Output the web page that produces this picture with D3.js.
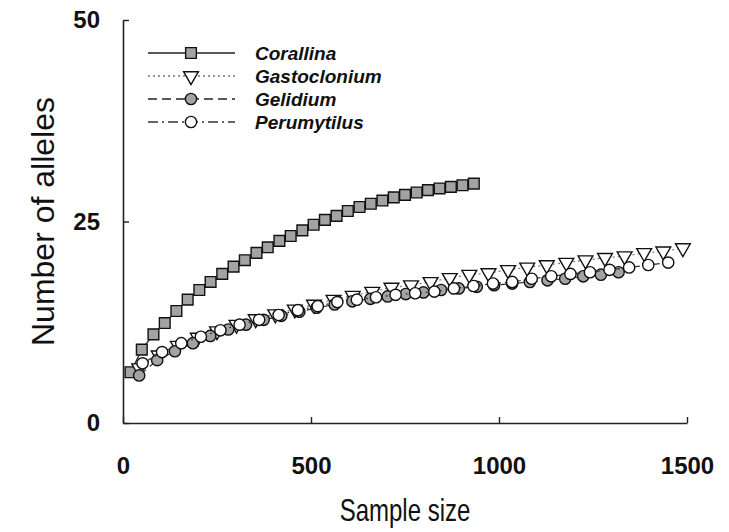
<!DOCTYPE html>
<html lang="en">

<head>
    <meta charset="UTF-8">
    <title>Allele rarefaction</title>
    <script src="https://unpkg.com/d3@7.8.0/dist/d3.min.js"></script>
    <style>
        body {
            margin: 0px;
            background: #fff;
        }
    </style>
</head>

<body>

    <script>
        // sample sizes and number of alleles
        const corallinaN = [20, 50, 81, 111, 142, 172, 203, 233, 264, 294, 324, 355, 385, 416, 446, 477, 507, 537, 568, 598, 629, 659, 690, 720, 750, 781, 811, 842, 872, 903, 933];
        const corallinaA = [6.3, 9.1, 11.0, 12.4, 13.9, 15.3, 16.5, 17.5, 18.5, 19.4, 20.2, 21.1, 21.8, 22.6, 23.2, 23.9, 24.6, 25.2, 25.7, 26.3, 26.8, 27.2, 27.6, 28.0, 28.3, 28.6, 28.9, 29.1, 29.3, 29.5, 29.7];

        const gastoN = [43, 95, 146, 199, 250, 302, 353, 405, 457, 508, 560, 611, 663, 714, 766, 818, 869, 921, 972, 1024, 1075, 1127, 1179, 1230, 1282, 1334, 1386, 1437, 1489];
        const gastoA = [6.8, 8.4, 9.6, 10.6, 11.4, 12.2, 12.9, 13.5, 14.1, 14.7, 15.3, 15.8, 16.3, 16.8, 17.1, 17.5, 18.0, 18.4, 18.6, 19.0, 19.3, 19.6, 19.9, 20.2, 20.5, 20.7, 21.1, 21.3, 21.7];

        const gelidiumN = [43, 91, 138, 186, 232, 280, 327, 374, 421, 469, 515, 563, 610, 658, 704, 752, 799, 846, 893, 941, 987, 1035, 1082, 1129, 1176, 1224, 1271, 1318];
        const gelidiumA = [5.9, 7.8, 8.9, 9.9, 10.8, 11.6, 12.2, 12.8, 13.3, 13.8, 14.3, 14.7, 15.1, 15.4, 15.7, 16.0, 16.2, 16.5, 16.7, 16.9, 17.1, 17.3, 17.5, 17.7, 17.9, 18.2, 18.4, 18.7];

        const perumN = [52, 104, 155, 207, 259, 310, 362, 414, 465, 518, 570, 622, 673, 725, 777, 828, 880, 932, 984, 1035, 1087, 1139, 1190, 1242, 1294, 1346, 1397, 1450];
        const perumA = [7.4, 8.8, 9.9, 10.7, 11.5, 12.2, 12.8, 13.4, 14.0, 14.5, 15.0, 15.3, 15.6, 15.9, 16.1, 16.3, 16.7, 17.0, 17.3, 17.5, 17.9, 18.2, 18.5, 18.7, 19.0, 19.3, 19.6, 19.9];

        const xTicks = [0, 500, 1000, 1500];
        const yTicks = [0, 25, 50];

        const series = [
            { name: 'Corallina', n: corallinaN, a: corallinaA, symbol: d3.symbolSquare, size: 115, rot: 0, fill: '#a3a3a3', dash: null, lineColor: '#222' },
            { name: 'Gastoclonium', n: gastoN, a: gastoA, symbol: d3.symbolTriangle, size: 95, rot: 180, fill: '#fff', dash: '2,3', lineColor: '#777' },
            { name: 'Gelidium', n: gelidiumN, a: gelidiumA, symbol: d3.symbolCircle, size: 100, rot: 0, fill: '#a3a3a3', dash: '9,5', lineColor: '#222' },
            { name: 'Perumytilus', n: perumN, a: perumA, symbol: d3.symbolCircle, size: 100, rot: 0, fill: '#fff', dash: '10,4,2,4', lineColor: '#333' }
        ];

        const width = 729, height = 532;
        const margin = { top: 20, right: 42, bottom: 109, left: 123 };
        const innerwidth = width - margin.left - margin.right;
        const innerheight = height - margin.top - margin.bottom;
        const font = 'Liberation Sans, Arial, sans-serif';

        const svg = d3.select('body').append('svg')
            .attr('width', width)
            .attr('height', height);

        const g = svg.append('g')
            .attr('transform', `translate(${margin.left}, ${margin.top})`);

        const xScale = d3.scaleLinear().domain([0, 1500]).range([0, innerwidth]);
        const yScale = d3.scaleLinear().domain([0, 50]).range([innerheight, 0]);

        // axes, ticks pointing inward
        const xAxisG = g.append('g')
            .attr('transform', `translate(0, ${innerheight})`)
            .call(d3.axisBottom(xScale).tickValues(xTicks).tickFormat(d3.format('d'))
                .tickSizeInner(-6).tickSizeOuter(0).tickPadding(34));
        const yAxisG = g.append('g')
            .call(d3.axisLeft(yScale).tickValues(yTicks).tickFormat(d3.format('d'))
                .tickSizeInner(-6).tickSizeOuter(0).tickPadding(23));

        [xAxisG, yAxisG].forEach(ax => {
            ax.selectAll('.domain').attr('stroke', '#222').attr('stroke-width', 1.6);
            ax.selectAll('.tick line').attr('stroke', '#222').attr('stroke-width', 1.4);
            ax.selectAll('.tick text')
                .attr('fill', '#111')
                .style('font-family', font)
                .style('font-weight', 'bold')
                .style('font-size', '24px');
        });

        // axis titles (the source figure is a bit squeezed horizontally)
        svg.append('text')
            .attr('transform', `translate(${margin.left + innerwidth / 2}, 521) scale(0.75, 1)`)
            .attr('text-anchor', 'middle')
            .style('font-family', font)
            .style('font-size', '32px')
            .attr('fill', '#111')
            .text('Sample size');

        svg.append('text')
            .attr('transform', `translate(54, ${margin.top + innerheight / 2}) rotate(-90)`)
            .attr('text-anchor', 'middle')
            .style('font-family', font)
            .style('font-size', '32px')
            .attr('fill', '#111')
            .text('Number of alleles');

        // series: line then markers
        const line = d3.line().x(d => xScale(d[0])).y(d => yScale(d[1]));

        series.forEach(s => {
            const pts = s.n.map((v, i) => [v, s.a[i]]);
            g.append('path')
                .datum(pts)
                .attr('d', line)
                .attr('fill', 'none')
                .attr('stroke', s.lineColor)
                .attr('stroke-width', 1.2)
                .attr('stroke-dasharray', s.dash);
            g.append('g').selectAll('path')
                .data(pts)
                .enter().append('path')
                .attr('d', d3.symbol().type(s.symbol).size(s.size))
                .attr('transform', d => `translate(${xScale(d[0])}, ${yScale(d[1])}) rotate(${s.rot})`)
                .attr('fill', s.fill)
                .attr('stroke', '#111')
                .attr('stroke-width', 1.4);
        });

        // legend
        const legend = svg.append('g').attr('transform', 'translate(148, 53)');
        const rows = legend.selectAll('g').data(series).enter().append('g')
            .attr('transform', (d, i) => `translate(0, ${i * 23})`);
        rows.append('line')
            .attr('x1', 0).attr('x2', 87)
            .attr('stroke', d => d.lineColor)
            .attr('stroke-width', 1.6)
            .attr('stroke-dasharray', d => d.dash);
        rows.append('path')
            .attr('d', d => d3.symbol().type(d.symbol).size(d.size)())
            .attr('transform', d => `translate(43, 0) rotate(${d.rot})`)
            .attr('fill', d => d.fill)
            .attr('stroke', '#111')
            .attr('stroke-width', 1.4);
        rows.append('text')
            .attr('x', 107)
            .attr('y', 7)
            .style('font-family', font)
            .style('font-weight', 'bold')
            .style('font-style', 'italic')
            .style('font-size', '19px')
            .attr('fill', '#111')
            .text(d => d.name);
    </script>

</body>

</html>
